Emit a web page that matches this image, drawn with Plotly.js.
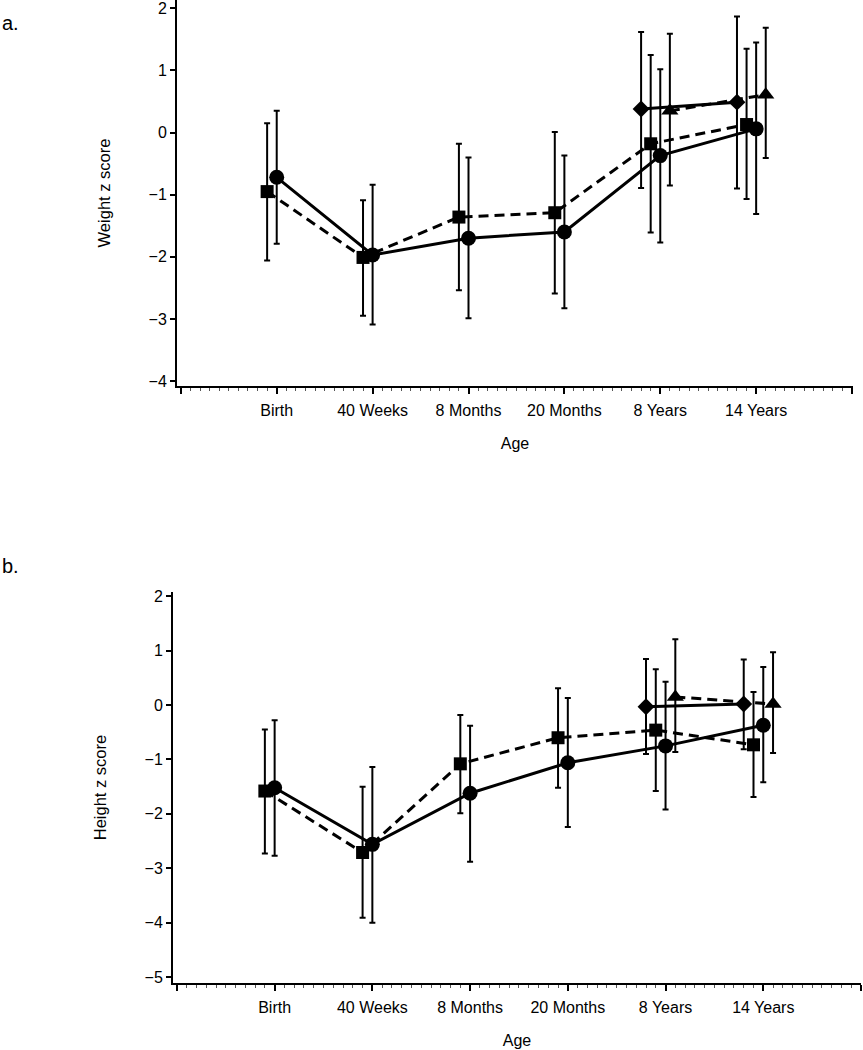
<!DOCTYPE html>
<html>
<head>
<meta charset="utf-8">
<script src="https://cdn.plot.ly/plotly-3.0.1.min.js"></script>
<style>html,body{margin:0;padding:0;background:#fff;}#chart{width:863px;height:1050px;}</style>
</head>
<body>
<div id="chart"></div>
<script>
// Age categories (tick labels)
const categories = ['Birth', '40 Weeks', '8 Months', '20 Months', '8 Years', '14 Years'];
const lateCategories = ['8 Years', '14 Years'];

// Panel a: Weight z score
const wCircleMean  = [-0.72, -1.97, -1.70, -1.60, -0.37, 0.06];
const wCircleUpper = [ 0.35, -0.84, -0.40, -0.37,  1.02, 1.45];
const wCircleLower = [-1.79, -3.09, -2.99, -2.83, -1.77, -1.31];

const wSquareMean  = [-0.95, -2.01, -1.36, -1.29, -0.18, 0.13];
const wSquareUpper = [ 0.15, -1.09, -0.18,  0.01,  1.25, 1.35];
const wSquareLower = [-2.06, -2.95, -2.54, -2.59, -1.61, -1.07];

const wDiamondMean  = [ 0.38,  0.49];
const wDiamondUpper = [ 1.62,  1.87];
const wDiamondLower = [-0.89, -0.90];

const wTriangleMean  = [ 0.35,  0.61];
const wTriangleUpper = [ 1.59,  1.69];
const wTriangleLower = [-0.85, -0.41];

// Panel b: Height z score
const hCircleMean  = [-1.52, -2.56, -1.62, -1.06, -0.75, -0.37];
const hCircleUpper = [-0.28, -1.14, -0.38,  0.13,  0.43,  0.70];
const hCircleLower = [-2.77, -4.00, -2.88, -2.24, -1.92, -1.42];

const hSquareMean  = [-1.58, -2.71, -1.08, -0.60, -0.46, -0.73];
const hSquareUpper = [-0.45, -1.50, -0.18,  0.31,  0.66,  0.24];
const hSquareLower = [-2.73, -3.91, -1.99, -1.52, -1.58, -1.69];

const hDiamondMean  = [-0.03,  0.02];
const hDiamondUpper = [ 0.85,  0.84];
const hDiamondLower = [-0.90, -0.81];

const hTriangleMean  = [ 0.15,  0.02];
const hTriangleUpper = [ 1.21,  0.97];
const hTriangleLower = [-0.86, -0.88];

// ---- construction ----
const FONT = '"Liberation Sans", Arial, Helvetica, sans-serif';
function xpos(cats, offset) {
  return cats.map(c => categories.indexOf(c) + 1 + offset);
}
function trace(cats, mean, upper, lower, symbol, size, dash, offset, xa, ya) {
  return {
    type: 'scatter', mode: 'lines+markers',
    x: xpos(cats, offset), y: mean,
    xaxis: xa, yaxis: ya,
    line: {color: '#000', width: 3, dash: dash},
    marker: {symbol: symbol, size: size, color: '#000'},
    error_y: {
      type: 'data', symmetric: false,
      array: upper.map((u, i) => u - mean[i]),
      arrayminus: mean.map((m, i) => m - lower[i]),
      color: '#000', thickness: 2, width: 3
    },
    showlegend: false, hoverinfo: 'x+y'
  };
}
const DASH = '10px,6px';
const data = [
  trace(categories, wSquareMean, wSquareUpper, wSquareLower, 'square', 13, DASH, -0.1, 'x', 'y'),
  trace(categories, wCircleMean, wCircleUpper, wCircleLower, 'circle', 15, 'solid', 0, 'x', 'y'),
  trace(lateCategories, wTriangleMean, wTriangleUpper, wTriangleLower, 'triangle-up', 15, DASH, 0.1, 'x', 'y'),
  trace(lateCategories, wDiamondMean, wDiamondUpper, wDiamondLower, 'diamond', 13, 'solid', -0.2, 'x', 'y'),
  trace(categories, hSquareMean, hSquareUpper, hSquareLower, 'square', 13, DASH, -0.1, 'x2', 'y2'),
  trace(categories, hCircleMean, hCircleUpper, hCircleLower, 'circle', 15, 'solid', 0, 'x2', 'y2'),
  trace(lateCategories, hTriangleMean, hTriangleUpper, hTriangleLower, 'triangle-up', 15, DASH, 0.1, 'x2', 'y2'),
  trace(lateCategories, hDiamondMean, hDiamondUpper, hDiamondLower, 'diamond', 13, 'solid', -0.2, 'x2', 'y2')
];

const W = 863, H = 1050;
const tickVals = [0, 1, 2, 3, 4, 5, 6, 7];
const tickText = [''].concat(categories, ['']);
function xAxis(domain, range, anchor) {
  return {
    domain: domain, range: range, anchor: anchor,
    tickmode: 'array', tickvals: tickVals, ticktext: tickText,
    ticks: 'outside', ticklen: 6, tickwidth: 2, tickcolor: '#000',
    ticklabelstandoff: 3,
    minor: {tickmode: 'linear', tick0: 0, dtick: 0.1, ticks: 'outside', ticklen: 3, tickwidth: 1, tickcolor: '#555', showgrid: false},
    showline: true, linewidth: 2, linecolor: '#000',
    showgrid: false, zeroline: false,
    tickfont: {family: FONT, size: 16, color: '#000'},
    title: {text: 'Age', font: {family: FONT, size: 16, color: '#000'}, standoff: 20},
    fixedrange: true
  };
}
function yAxis(domain, range, anchor, title) {
  return {
    domain: domain, range: range, anchor: anchor,
    tickmode: 'linear', tick0: 0, dtick: 1,
    ticks: 'outside', ticklen: 5, tickwidth: 2, tickcolor: '#000',
    ticklabeloverflow: 'allow',
    showline: true, linewidth: 2, linecolor: '#000',
    showgrid: false, zeroline: false,
    tickfont: {family: FONT, size: 16, color: '#000'},
    title: {text: title, font: {family: FONT, size: 16.5, color: '#000'}, standoff: 34},
    fixedrange: true
  };
}

const layout = {
  width: W, height: H,
  margin: {l: 0, r: 0, t: 0, b: 0},
  paper_bgcolor: '#fff', plot_bgcolor: '#fff',
  font: {family: FONT, color: '#000'},
  xaxis: xAxis([177 / W, 853 / W], [-0.04, 7.01], 'y'),
  yaxis: yAxis([1 - 386 / H, 1], [-4.08, 2.135], 'x', 'Weight z score'),
  xaxis2: xAxis([173 / W, 861 / W], [-0.04, 7.0], 'y2'),
  yaxis2: yAxis([1 - 983 / H, 1 - 592 / H], [-5.11, 2.08], 'x2', 'Height z score'),
  annotations: [
    {text: 'a.', xref: 'paper', yref: 'paper', x: 0, y: 1 - 23 / H, xanchor: 'left', yanchor: 'middle', showarrow: false, font: {family: FONT, size: 20, color: '#000'}},
    {text: 'b.', xref: 'paper', yref: 'paper', x: 0, y: 1 - 566 / H, xanchor: 'left', yanchor: 'middle', showarrow: false, font: {family: FONT, size: 20, color: '#000'}}
  ]
};

Plotly.newPlot('chart', data, layout, {displayModeBar: false, staticPlot: true});
</script>
</body>
</html>
